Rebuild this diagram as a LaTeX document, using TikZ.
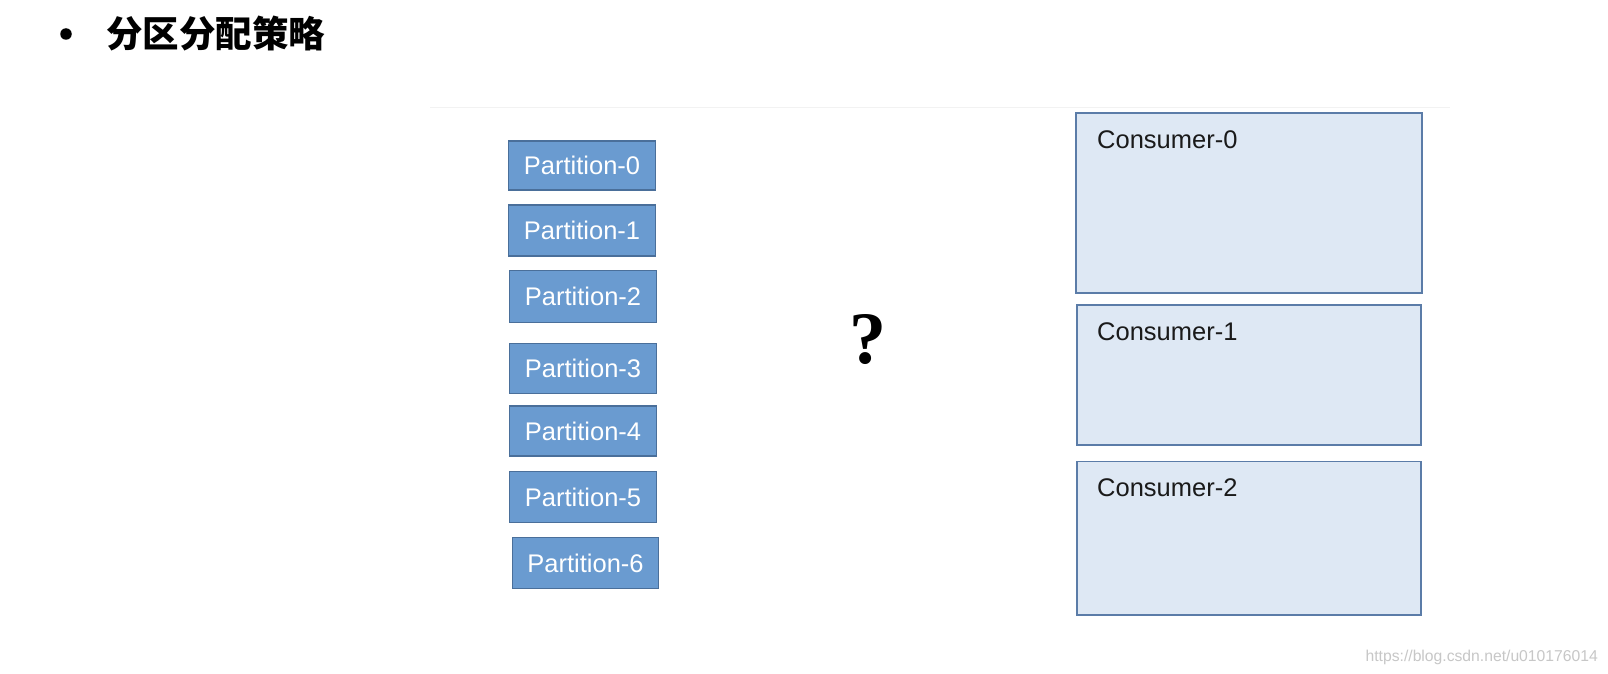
\documentclass[tikz,border=0pt]{standalone}
\usepackage{fontspec}
\setmainfont{Liberation Sans}
\newfontfamily\cjk{Noto Sans CJK SC}
\newfontfamily\qserif{Liberation Serif}
\begin{document}
\begin{tikzpicture}[x=1pt,y=-1pt,
  part/.style={draw=partborder,line width=1.3pt,fill=partfill,text=white,
    minimum width=147pt,minimum height=50pt,inner sep=0pt,
    font=\fontsize{25.5}{30}\selectfont},
  cons/.style={draw=consborder,line width=1.2pt,fill=consfill},
  conslabel/.style={anchor=base west,inner sep=0pt,text=consText,
    font=\fontsize{25.5}{30}\selectfont}]
\definecolor{partfill}{HTML}{6A9BD0}
\definecolor{partborder}{HTML}{4A6F9A}
\definecolor{consfill}{HTML}{DEE8F4}
\definecolor{consborder}{HTML}{5B7CA8}
\definecolor{consText}{HTML}{1A1A1A}
\useasboundingbox[fill=white] (0,0) rectangle (1608,674);
% faint top line
\draw[black!5,line width=1pt] (430,108) -- (1450,108);
% title
\node[circle,fill=black,inner sep=0pt,minimum size=11.5pt] (bullet) at (66,34) {};
\node[anchor=west,inner sep=0pt,font=\cjk\bfseries\fontsize{36.5}{40}\selectfont] (title) at (106,33.5) {分区分配策略};
% partitions
\node[part,minimum height=49pt] (p0) at (582,165.5) {Partition-0};
\node[part,minimum height=51pt] (p1) at (582,230.5) {Partition-1};
\node[part,minimum height=52pt] (p2) at (583,296.7) {Partition-2};
\node[part] (p3) at (583,368.6) {Partition-3};
\node[part] (p4) at (583,431) {Partition-4};
\node[part,minimum height=51pt] (p5) at (583,497) {Partition-5};
\node[part,minimum height=51pt,minimum width=146pt] (p6) at (585.5,563) {Partition-6};
% question mark
\node[inner sep=0pt,font=\qserif\bfseries\fontsize{74}{80}\selectfont] (q) at (868,340) {?};
% consumers
\draw[cons] (1076,113) rectangle (1422,293);
\node[conslabel] (c0) at (1097,148) {Consumer-0};
\draw[cons] (1077,305) rectangle (1421,445);
\node[conslabel] (c1) at (1097,340) {Consumer-1};
\draw[cons] (1077,461.5) rectangle (1421,615);
\node[conslabel] (c2) at (1097,496.5) {Consumer-2};
% watermark
\node[anchor=base east,inner sep=0pt,text=black!22,font=\fontsize{15.7}{18}\selectfont] (wm) at (1598,661) {https://blog.csdn.net/u010176014};
\end{tikzpicture}
\end{document}
